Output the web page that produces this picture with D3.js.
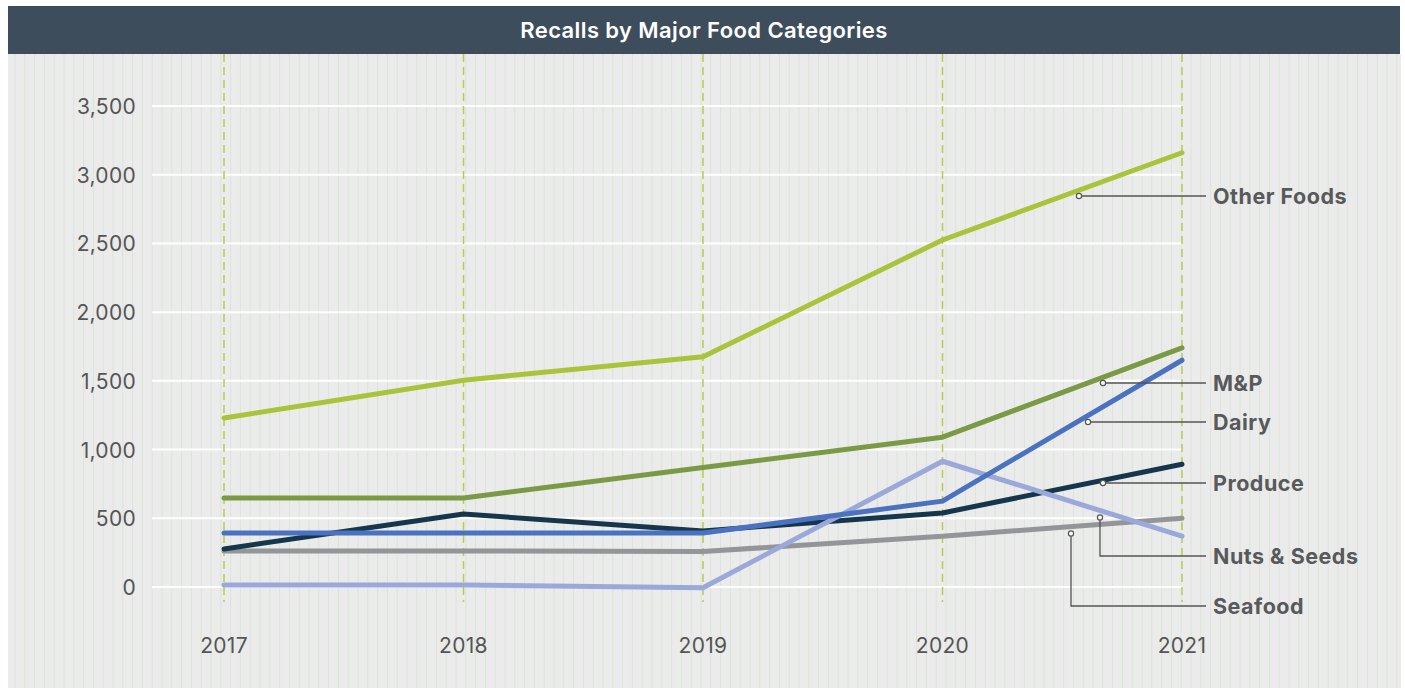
<!DOCTYPE html>
<html>
<head>
<meta charset="utf-8">
<script src="https://cdn.jsdelivr.net/npm/d3@7"></script>
<style>
  body { margin: 0; background: #fff; font-family: Inter, "Open Sans", sans-serif; }
</style>
</head>
<body>
<script>
const width = 1405,
  height = 688;

// data
const years = [2017, 2018, 2019, 2020, 2021];
const otherFoods = [1230, 1505, 1675, 2525, 3160];
const mp = [648, 648, 870, 1090, 1740];
const dairy = [393, 393, 393, 625, 1650];
const produce = [277, 531, 408, 539, 893];
const seafood = [262, 262, 258, 370, 500];
const nutsSeeds = [15, 15, -5, 915, 370];
const yTicks = [0, 500, 1000, 1500, 2000, 2500, 3000, 3500];

// drawing order: bottom first
const series = [
  { name: 'Seafood', values: seafood, color: '#939598', lx: 1071, ly: 606 },
  { name: 'Produce', values: produce, color: '#15364c', lx: 1103, ly: 483 },
  { name: 'Nuts & Seeds', values: nutsSeeds, color: '#9aa9da', lx: 1100, ly: 556 },
  { name: 'Dairy', values: dairy, color: '#4a72c0', lx: 1088, ly: 422 },
  { name: 'M&P', values: mp, color: '#7b9a45', lx: 1103, ly: 383 },
  { name: 'Other Foods', values: otherFoods, color: '#a9c43b', lx: 1079, ly: 196 }
];

const x = d3.scalePoint()
  .domain(years)
  .range([224, 1182]);

const y = d3.scaleLinear()
  .domain([0, 3500])
  .range([587, 106]);

const svg = d3.select('body').append('svg')
  .attr('width', width)
  .attr('height', height);

// background panel with thin vertical stripes
svg.append('rect')
  .attr('x', 8).attr('y', 54)
  .attr('width', 1393).attr('height', height - 54)
  .attr('fill', '#ebebeb');

svg.append('g')
  .selectAll('line')
  .data(d3.range(15, 1401, 9.8))
  .enter().append('line')
  .attr('x1', d => d).attr('x2', d => d)
  .attr('y1', 54).attr('y2', height)
  .attr('stroke', '#dae5d8')
  .attr('stroke-width', 1);

// title bar
svg.append('rect')
  .attr('x', 8).attr('y', 6)
  .attr('width', 1392).attr('height', 48)
  .attr('fill', '#3e4d5c');

svg.append('text')
  .attr('x', 704).attr('y', 38)
  .attr('text-anchor', 'middle')
  .attr('fill', '#fff')
  .attr('font-size', 22)
  .attr('font-weight', 600)
  .attr('letter-spacing', 0.4)
  .text('Recalls by Major Food Categories');

// horizontal gridlines
svg.append('g')
  .selectAll('line')
  .data(yTicks)
  .enter().append('line')
  .attr('x1', 152).attr('x2', x(2021))
  .attr('y1', d => y(d)).attr('y2', d => y(d))
  .attr('stroke', '#fff')
  .attr('stroke-width', 2);

// y labels
svg.append('g')
  .selectAll('text')
  .data(yTicks)
  .enter().append('text')
  .attr('x', 136)
  .attr('y', d => y(d) + 8)
  .attr('text-anchor', 'end')
  .attr('fill', '#555')
  .attr('font-size', 21)
  .attr('letter-spacing', 0.3)
  .text(d => d3.format(',')(d));

// dashed year lines
svg.append('g')
  .selectAll('line')
  .data(years)
  .enter().append('line')
  .attr('x1', d => x(d)).attr('x2', d => x(d))
  .attr('y1', 54).attr('y2', 602)
  .attr('stroke', '#b7cd4e')
  .attr('stroke-width', 1.5)
  .attr('stroke-dasharray', '8,5');

// x labels
svg.append('g')
  .selectAll('text')
  .data(years)
  .enter().append('text')
  .attr('x', d => x(d))
  .attr('y', 653)
  .attr('text-anchor', 'middle')
  .attr('fill', '#555')
  .attr('font-size', 21)
  .attr('letter-spacing', 0.3)
  .text(d => d);

const line = d3.line()
  .x((d, i) => x(years[i]))
  .y(d => y(d));

svg.append('g')
  .selectAll('path')
  .data(series)
  .enter().append('path')
  .attr('d', d => line(d.values))
  .attr('fill', 'none')
  .attr('stroke', d => d.color)
  .attr('stroke-width', 5)
  .attr('stroke-linejoin', 'round')
  .attr('stroke-linecap', 'round');

// labels with leader lines; anchor point sits just below each series between 2020 and 2021
const labels = svg.append('g');
series.forEach(s => {
  const t = (s.lx - x(2020)) / (x(2021) - x(2020));
  const v = s.values[3] + t * (s.values[4] - s.values[3]);
  let py = y(v) + 7;
  let pts;
  if (Math.abs(s.ly - py) < 12) {
    py = s.ly;
    pts = [[s.lx, py], [1206, py]];
  } else {
    pts = [[s.lx, py], [s.lx, s.ly], [1206, s.ly]];
  }
  labels.append('path')
    .attr('d', d3.line()(pts))
    .attr('fill', 'none')
    .attr('stroke', '#555')
    .attr('stroke-width', 1.3);
  labels.append('circle')
    .attr('cx', s.lx).attr('cy', py)
    .attr('r', 2.6)
    .attr('fill', '#fff')
    .attr('stroke', '#555')
    .attr('stroke-width', 1.2);
  labels.append('text')
    .attr('x', 1213)
    .attr('y', s.ly + 8)
    .attr('fill', '#58595b')
    .attr('font-size', 21.5)
    .attr('font-weight', 700)
    .attr('letter-spacing', 0.5)
    .text(s.name);
});
</script>
</body>
</html>
